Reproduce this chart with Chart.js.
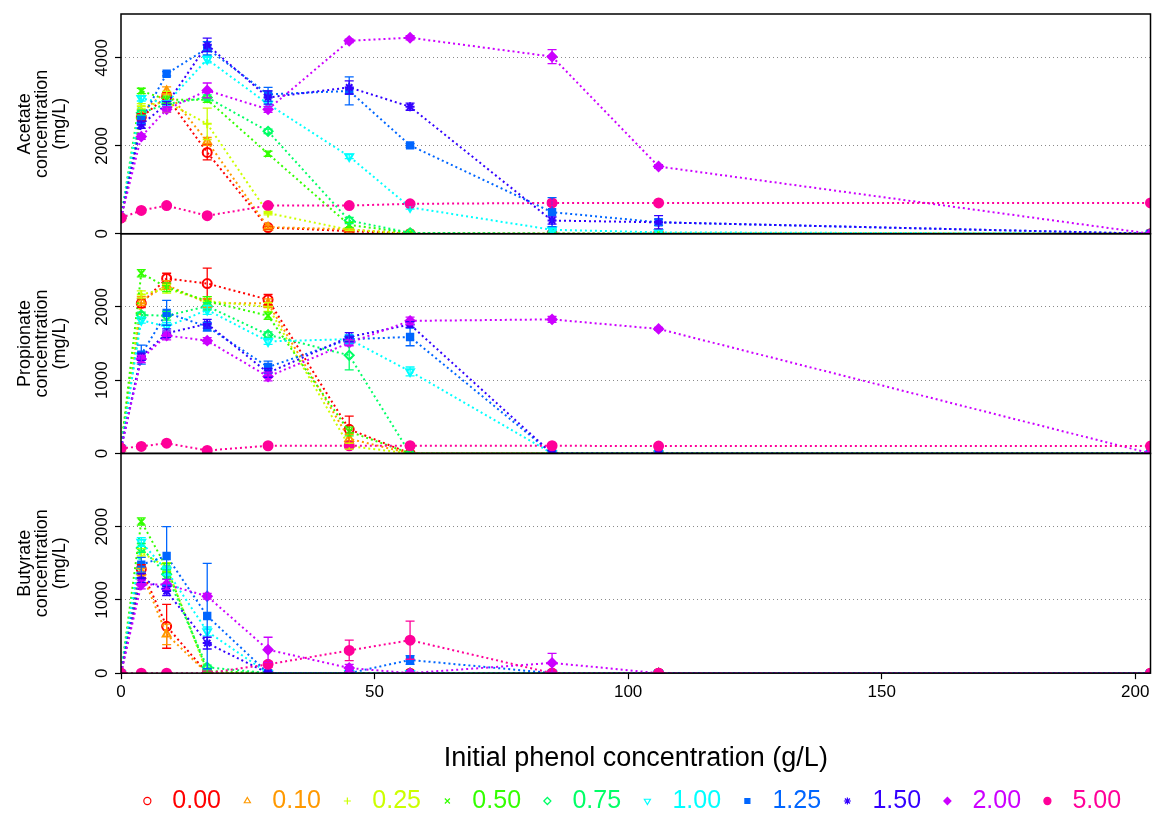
<!DOCTYPE html>
<html>
<head>
<meta charset="utf-8">
<script src="https://cdn.jsdelivr.net/npm/chart.js@4.4.0/dist/chart.umd.min.js"></script>
<style>
  html, body { margin: 0; padding: 0; background: #fff; }
  #wrap { width: 1157px; height: 814px; position: relative; }
</style>
</head>
<body>
<div id="wrap"><canvas id="chart"></canvas></div>
<script>
// initial phenol concentration (g/L)
const phenol = [0, 4, 9, 17, 29, 45, 57, 85, 106, 203];
const series = ['0.00', '0.10', '0.25', '0.50', '0.75', '1.00', '1.25', '1.50', '2.00', '5.00'];

// tick labels
const phenolTicks = [0, 50, 100, 150, 200];
const acetateTicks = [0, 2000, 4000];
const propionateTicks = [0, 1000, 2000];
const butyrateTicks = [0, 1000, 2000];

// one row per series, one column per phenol value (mg/L)
const acetate = [
  [360, 2650, 3120, 1850, 140, 60, 0, 0, 0, 0],
  [360, 2750, 3250, 2100, 150, 100, 0, 0, 0, 0],
  [360, 2900, 3000, 2500, 470, 90, 0, 0, 0, 0],
  [360, 3250, 3050, 3050, 1820, 200, 20, 0, 0, 0],
  [360, 2750, 2950, 3100, 2330, 300, 20, 0, 0, 0],
  [360, 3080, 2970, 3970, 2950, 1760, 600, 90, 30, 0],
  [360, 2590, 3640, 4220, 3170, 3250, 2010, 490, 260, 0],
  [360, 2480, 2950, 4300, 3100, 3330, 2890, 300, 260, 0],
  [360, 2210, 2830, 3260, 2830, 4390, 4460, 4030, 1530, 0],
  [360, 530, 640, 410, 640, 640, 680, 700, 700, 700]
];
const acetateErr = [
  [0, 80, 100, 170, 30, 20, 0, 0, 0, 0],
  [0, 70, 90, 90, 30, 20, 0, 0, 0, 0],
  [0, 60, 240, 360, 40, 20, 0, 0, 0, 0],
  [0, 60, 80, 60, 60, 60, 0, 0, 0, 0],
  [0, 60, 60, 60, 50, 70, 0, 0, 0, 0],
  [0, 60, 60, 80, 60, 50, 40, 30, 0, 0],
  [0, 80, 50, 150, 160, 320, 40, 330, 70, 0],
  [0, 80, 60, 150, 150, 150, 80, 80, 150, 0],
  [0, 60, 60, 170, 70, 40, 50, 160, 40, 0],
  [0, 30, 30, 30, 30, 40, 40, 60, 40, 0]
];

const propionate = [
  [70, 2050, 2390, 2320, 2100, 330, 0, 0, 0, 0],
  [70, 2080, 2300, 2050, 2050, 200, 0, 0, 0, 0],
  [70, 2170, 2250, 2080, 2000, 100, 0, 0, 0, 0],
  [70, 2460, 2270, 2080, 1880, 300, 0, 0, 0, 0],
  [70, 1890, 1880, 2010, 1620, 1340, 0, 0, 0, 0],
  [70, 1820, 1730, 1960, 1530, 1560, 1120, 0, 0, 0],
  [70, 1350, 1920, 1730, 1180, 1560, 1590, 0, 0, 0],
  [70, 1320, 1640, 1770, 1100, 1590, 1760, 0, 0, 0],
  [70, 1290, 1610, 1540, 1050, 1510, 1810, 1830, 1700, 0],
  [70, 96, 140, 40, 105, 105, 105, 105, 100, 100]
];
const propionateErr = [
  [0, 60, 70, 210, 70, 180, 0, 0, 0, 0],
  [0, 60, 60, 60, 60, 60, 0, 0, 0, 0],
  [0, 50, 60, 60, 60, 40, 0, 0, 0, 0],
  [0, 50, 60, 60, 50, 60, 0, 0, 0, 0],
  [0, 40, 60, 50, 40, 200, 0, 0, 0, 0],
  [0, 40, 60, 60, 40, 60, 60, 0, 0, 0],
  [0, 130, 170, 60, 80, 50, 120, 0, 0, 0],
  [0, 50, 60, 60, 60, 60, 40, 0, 0, 0],
  [0, 50, 60, 40, 60, 40, 50, 40, 20, 0],
  [0, 10, 20, 10, 10, 10, 10, 10, 10, 0]
];

const butyrate = [
  [0, 1420, 640, 0, 0, 0, 0, 0, 0, 0],
  [0, 1380, 530, 0, 0, 0, 0, 0, 0, 0],
  [0, 1650, 1450, 0, 0, 0, 0, 0, 0, 0],
  [0, 2070, 1440, 30, 0, 0, 0, 0, 0, 0],
  [0, 1710, 1350, 80, 0, 0, 0, 0, 0, 0],
  [0, 1790, 1400, 570, 0, 0, 0, 0, 0, 0],
  [0, 1480, 1600, 780, 0, 0, 180, 0, 0, 0],
  [0, 1300, 1120, 410, 0, 0, 0, 0, 0, 0],
  [0, 1210, 1210, 1050, 320, 70, 0, 140, 0, 0],
  [0, 0, 0, 0, 120, 310, 450, 0, 0, 0]
];
const butyrateErr = [
  [0, 60, 300, 0, 0, 0, 0, 0, 0, 0],
  [0, 50, 140, 0, 0, 0, 0, 0, 0, 0],
  [0, 50, 60, 0, 0, 0, 0, 0, 0, 0],
  [0, 50, 60, 20, 0, 0, 0, 0, 0, 0],
  [0, 60, 60, 30, 0, 0, 0, 0, 0, 0],
  [0, 60, 60, 60, 0, 0, 0, 0, 0, 0],
  [0, 100, 400, 720, 0, 0, 60, 0, 0, 0],
  [0, 60, 60, 80, 20, 0, 0, 0, 0, 0],
  [0, 60, 70, 40, 170, 50, 0, 130, 0, 0],
  [0, 0, 0, 0, 40, 140, 260, 0, 0, 0]
];

// styles (R rainbow(10) + pch 1..10 look-alikes)
const colors = ['#FF0000', '#FF9900', '#CCFF00', '#33FF00', '#00FF66', '#00FFFF', '#0066FF', '#3300FF', '#CC00FF', '#FF0099'];
const markers = ['circle', 'triangle', 'cross', 'crossRot', 'rectRot', 'triangle', 'rect', 'star', 'rectRot', 'circle'];
const rotations = [0, 0, 0, 0, 0, 180, 0, 0, 0, 0];
const filled = [false, false, false, false, false, false, true, false, true, true];

Chart.defaults.font.family = "'Liberation Sans', Arial, sans-serif";
Chart.defaults.color = '#000';

const panels = [
  { id: 'yAce', values: acetate, errors: acetateErr },
  { id: 'yPro', values: propionate, errors: propionateErr },
  { id: 'yBut', values: butyrate, errors: butyrateErr }
];

const datasets = [];
panels.forEach(p => {
  series.forEach((s, k) => {
    datasets.push({
      label: s,
      yAxisID: p.id,
      data: phenol.map((x, i) => ({ x: x, y: p.values[k][i] })),
      errors: p.errors[k],
      showLine: true,
      borderColor: colors[k],
      backgroundColor: filled[k] ? colors[k] : 'rgba(255,255,255,0)',
      borderWidth: 2,
      borderDash: [2, 3],
      pointStyle: markers[k],
      rotation: rotations[k],
      pointRadius: 4.5,
      pointBorderWidth: 2,
      order: 9 - k
    });
  });
});

// vertical error bars with caps, clipped to each panel
const errorBars = {
  id: 'errorBars',
  afterDatasetsDraw(chart) {
    const ctx = chart.ctx;
    const xs = chart.scales.x;
    chart.data.datasets.forEach((ds, di) => {
      const ys = chart.scales[ds.yAxisID];
      const meta = chart.getDatasetMeta(di);
      ctx.save();
      ctx.beginPath();
      ctx.rect(xs.left, ys.top, xs.right - xs.left, ys.bottom - ys.top);
      ctx.clip();
      ctx.strokeStyle = ds.borderColor;
      ctx.lineWidth = 1.3;
      meta.data.forEach((pt, i) => {
        const e = ds.errors[i];
        if (!e) return;
        const v = ds.data[i].y;
        const x = pt.x;
        const y1 = ys.getPixelForValue(v - e);
        const y2 = ys.getPixelForValue(v + e);
        ctx.beginPath();
        ctx.moveTo(x, y1); ctx.lineTo(x, y2);
        ctx.moveTo(x - 4.5, y1); ctx.lineTo(x + 4.5, y1);
        ctx.moveTo(x - 4.5, y2); ctx.lineTo(x + 4.5, y2);
        ctx.stroke();
      });
      ctx.restore();
    });
  }
};

// box round each panel
const panelFrames = {
  id: 'panelFrames',
  afterDraw(chart) {
    const ctx = chart.ctx;
    const xs = chart.scales.x;
    ctx.save();
    ctx.strokeStyle = '#000';
    ctx.lineWidth = 1.5;
    panels.forEach(p => {
      const ys = chart.scales[p.id];
      ctx.strokeRect(xs.left, ys.top, xs.right - xs.left, ys.bottom - ys.top);
    });
    ctx.restore();
  }
};

function panelAxis(title, max, tickValues) {
  return {
    type: 'linear',
    position: 'left',
    stack: 'panels',
    stackWeight: 1,
    min: 0,
    max: max,
    afterBuildTicks: (s) => { s.ticks = tickValues.map(v => ({ value: v })); },
    afterFit: (s) => { s.width = 121; },
    ticks: {
      minRotation: 90,
      maxRotation: 90,
      crossAlign: 'center',
      padding: -6,
      font: { size: 17 },
      callback: (v) => String(v)
    },
    grid: {
      color: (c) => (c.tick && c.tick.value === 0) ? 'rgba(0,0,0,0)' : '#8a8a8a',
      lineWidth: 1,
      tickColor: '#000',
      tickWidth: 1.2,
      tickLength: 6
    },
    border: { display: false, dash: [1, 3] },
    title: {
      display: true,
      text: title,
      font: { size: 18, lineHeight: 0.97 },
      padding: { top: 16, bottom: 0 }
    }
  };
}

new Chart(document.getElementById('chart'), {
  type: 'scatter',
  data: { datasets: datasets },
  options: {
    responsive: true,
    maintainAspectRatio: false,
    animation: false,
    layout: { padding: { top: 14, left: 0, right: 2, bottom: -9.5 } },
    scales: {
      x: {
        type: 'linear',
        position: 'bottom',
        min: 0,
        max: 203,
        afterBuildTicks: (s) => { s.ticks = phenolTicks.map(v => ({ value: v })); },
        afterFit: (s) => { s.height = 101.5; s.paddingLeft = 0; s.paddingRight = 0; },
        ticks: { maxRotation: 0, padding: 3, font: { size: 17 }, callback: (v) => String(v) },
        grid: { drawOnChartArea: false, drawTicks: true, tickLength: 6, tickColor: '#000', tickWidth: 1.2 },
        border: { display: false },
        title: {
          display: true,
          text: 'Initial phenol concentration (g/L)',
          font: { size: 27 },
          padding: { top: 0, bottom: 0 }
        }
      },
      yBut: panelAxis(['Butyrate', 'concentration', '(mg/L)'], 3000, butyrateTicks),
      yPro: panelAxis(['Propionate', 'concentration', '(mg/L)'], 3000, propionateTicks),
      yAce: panelAxis(['Acetate', 'concentration', '(mg/L)'], 5000, acetateTicks)
    },
    plugins: {
      tooltip: { enabled: false },
      legend: {
        position: 'bottom',
        fullSize: false,
        align: 'start',
        onClick: null,
        labels: {
          usePointStyle: true,
          boxWidth: 25,
          boxHeight: 5,
          padding: 13.85,
          font: { size: 25 },
          generateLabels: () => series.map((s, k) => ({
            text: s,
            fontColor: colors[k],
            strokeStyle: colors[k],
            fillStyle: filled[k] ? colors[k] : 'rgba(255,255,255,0)',
            lineWidth: 1.2,
            pointStyle: markers[k],
            rotation: rotations[k],
            hidden: false,
            datasetIndex: k
          }))
        }
      }
    }
  },
  plugins: [errorBars, panelFrames]
});
</script>
</body>
</html>
